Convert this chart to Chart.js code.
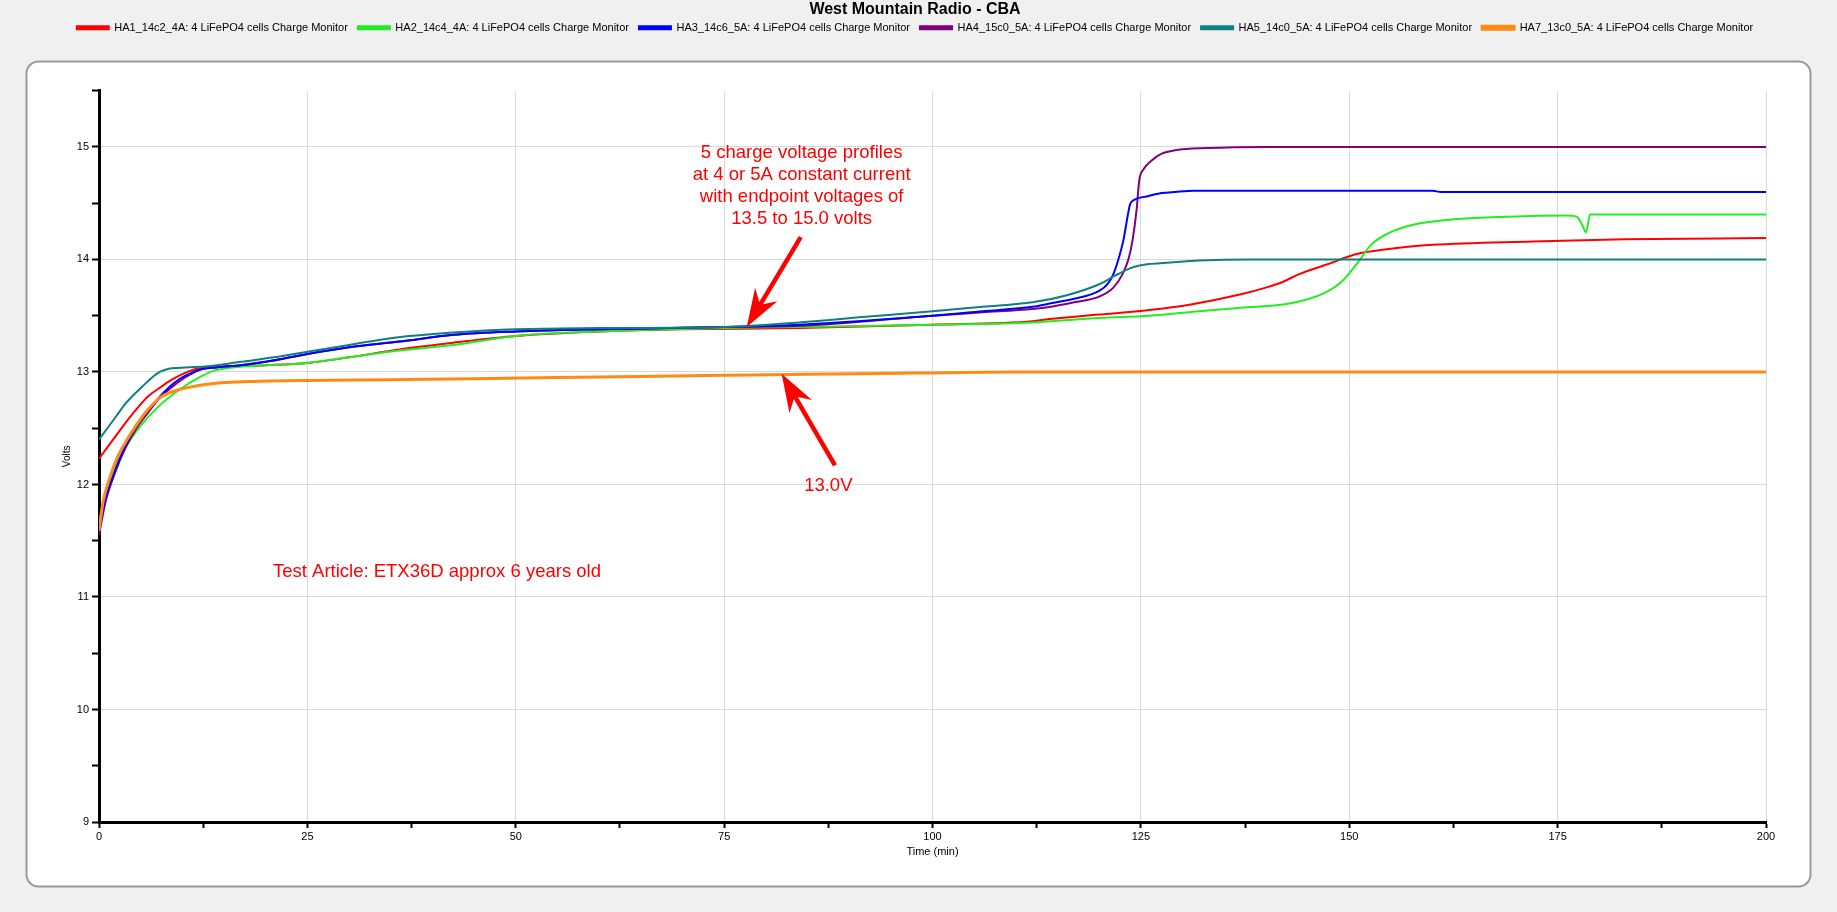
<!DOCTYPE html>
<html><head><meta charset="utf-8">
<script src="https://cdn.jsdelivr.net/npm/chart.js@4.4.0/dist/chart.umd.min.js"></script>
<style>html,body{margin:0;padding:0;background:#f0f0f0;}#wrap{width:1837px;height:912px;position:relative;}</style>
</head><body><div id="wrap"><canvas id="c"></canvas></div>
<script>
const chartTitle = 'West Mountain Radio - CBA';
const seriesNames = [
  'HA1_14c2_4A: 4 LiFePO4 cells Charge Monitor',
  'HA2_14c4_4A: 4 LiFePO4 cells Charge Monitor',
  'HA3_14c6_5A: 4 LiFePO4 cells Charge Monitor',
  'HA4_15c0_5A: 4 LiFePO4 cells Charge Monitor',
  'HA5_14c0_5A: 4 LiFePO4 cells Charge Monitor',
  'HA7_13c0_5A: 4 LiFePO4 cells Charge Monitor'
];
const seriesColors = ['#ff0000', '#22ee22', '#0000ff', '#800080', '#0f8080', '#ff8a14'];

const ha1Time  = [0, 1, 2, 3.2, 4.5, 6, 7.3, 8.5, 10, 11.3, 13, 16, 20, 25, 30, 36, 42.5, 50, 60, 70, 84, 100, 112, 114, 120, 126, 131, 137, 140, 142, 144, 147.5, 151, 154.5, 160, 172, 183, 200];
const ha1Volts = [12.23, 12.33, 12.43, 12.55, 12.67, 12.79, 12.86, 12.92, 12.98, 13.02, 13.04, 13.05, 13.06, 13.08, 13.13, 13.2, 13.26, 13.32, 13.36, 13.38, 13.39, 13.42, 13.45, 13.47, 13.51, 13.55, 13.6, 13.69, 13.75, 13.8, 13.87, 13.96, 14.05, 14.09, 14.13, 14.16, 14.18, 14.19];

const ha2Time  = [0, 0.7, 1.5, 2.5, 3.8, 5.2, 6.8, 8.5, 10, 11.3, 12.5, 13.7, 16, 20, 25, 30, 36, 42.5, 50, 60, 75, 84, 100, 112, 120, 126, 132, 137, 143, 147, 149.2, 151, 152.6, 154.9, 157.8, 163, 169, 176, 177.3, 178, 178.4, 178.9, 180, 190, 200];
const ha2Volts = [11.65, 11.9, 12.08, 12.24, 12.4, 12.54, 12.67, 12.78, 12.86, 12.92, 12.97, 13.01, 13.04, 13.06, 13.08, 13.13, 13.19, 13.24, 13.32, 13.36, 13.39, 13.4, 13.42, 13.44, 13.48, 13.5, 13.54, 13.57, 13.61, 13.7, 13.81, 13.97, 14.13, 14.24, 14.31, 14.36, 14.38, 14.39, 14.38, 14.3, 14.24, 14.4, 14.4, 14.4, 14.4];

const ha3Time  = [0, 0.8, 1.8, 3.2, 4.5, 6, 7.3, 8.5, 9.7, 11, 12.1, 14, 17, 20, 25, 30, 36, 42.5, 50, 60, 75, 84, 100, 106, 112, 114.2, 117, 120, 121, 121.7, 122.3, 122.9, 123.4, 123.7, 124.2, 125.7, 127.5, 129.1, 131.4, 160, 161, 200];
const ha3Volts = [11.6, 11.88, 12.1, 12.35, 12.52, 12.67, 12.78, 12.87, 12.94, 12.99, 13.02, 13.04, 13.06, 13.09, 13.16, 13.22, 13.27, 13.33, 13.36, 13.38, 13.4, 13.42, 13.5, 13.54, 13.58, 13.61, 13.65, 13.72, 13.78, 13.87, 14.0, 14.17, 14.38, 14.49, 14.53, 14.56, 14.59, 14.6, 14.61, 14.61, 14.6, 14.6];

const ha4Time  = [0, 0.8, 1.8, 3.2, 4.5, 6, 7.3, 8.5, 9.7, 11, 12.1, 14, 17, 20, 25, 30, 36, 42.5, 50, 60, 75, 84, 100, 106, 112, 114.2, 117, 120, 121.7, 122.8, 123.5, 124, 124.5, 124.8, 125.3, 126.3, 127.5, 129.1, 133, 140, 200];
const ha4Volts = [11.55, 11.85, 12.08, 12.33, 12.5, 12.65, 12.77, 12.85, 12.92, 12.98, 13.02, 13.04, 13.06, 13.09, 13.16, 13.22, 13.27, 13.33, 13.36, 13.38, 13.4, 13.41, 13.5, 13.53, 13.56, 13.58, 13.62, 13.67, 13.75, 13.87, 14.0, 14.17, 14.45, 14.7, 14.8, 14.88, 14.94, 14.97, 14.99, 15.0, 15.0];

const ha5Time  = [0, 1, 2, 3.2, 4.2, 5.2, 6.2, 7.3, 8.5, 10.4, 13, 17, 21, 25, 30, 35, 42.5, 50, 60, 75, 84, 92, 100, 106, 112, 116, 120, 122, 124, 126, 128, 132, 138, 160, 200];
const ha5Volts = [12.4, 12.5, 12.6, 12.72, 12.8, 12.87, 12.94, 13.0, 13.03, 13.04, 13.05, 13.09, 13.13, 13.18, 13.24, 13.3, 13.35, 13.38, 13.39, 13.4, 13.44, 13.49, 13.54, 13.58, 13.62, 13.68, 13.78, 13.86, 13.93, 13.96, 13.97, 13.99, 14.0, 14.0, 14.0];

const ha7Time  = [0, 0.5, 1.3, 2.2, 3.3, 4.5, 5.8, 7.3, 9, 11.3, 14, 18, 25, 35, 45, 55, 65, 75, 85, 97, 110, 130, 160, 200];
const ha7Volts = [11.59, 11.85, 12.06, 12.24, 12.39, 12.53, 12.66, 12.77, 12.83, 12.87, 12.9, 12.915, 12.925, 12.93, 12.94, 12.95, 12.96, 12.97, 12.98, 12.99, 13.0, 13.0, 13.0, 13.0];

const xTickLabels = [0, 25, 50, 75, 100, 125, 150, 175, 200];
const yTickLabels = [9, 10, 11, 12, 13, 14, 15];

const FONT = "'Liberation Sans Narrow', 'Liberation Sans', Arial, sans-serif";
const ANN_FONT = "'Liberation Sans', Arial, sans-serif";
Chart.defaults.font.family = FONT;
Chart.defaults.color = '#000';

function pts(t, v) { return t.map((x, i) => ({ x: x, y: v[i] })); }
const allTimes = [ha1Time, ha2Time, ha3Time, ha4Time, ha5Time, ha7Time];
const allVolts = [ha1Volts, ha2Volts, ha3Volts, ha4Volts, ha5Volts, ha7Volts];
const drawOrder = [5, 4, 2, 3, 1, 0];

const datasets = seriesNames.map((name, i) => ({
  label: name,
  data: pts(allTimes[i], allVolts[i]),
  borderColor: seriesColors[i],
  backgroundColor: seriesColors[i],
  borderWidth: i === 5 ? 3 : 2,
  pointRadius: 0,
  cubicInterpolationMode: 'monotone',
  order: drawOrder[i]
}));

const framePlugin = {
  id: 'frame',
  beforeDraw(chart) {
    const ctx = chart.ctx;
    ctx.save();
    ctx.fillStyle = '#f0f0f0';
    ctx.fillRect(0, 0, chart.width, chart.height);
    ctx.beginPath();
    ctx.roundRect(26.5, 61.5, 1784, 825, 12);
    ctx.fillStyle = '#ffffff';
    ctx.fill();
    ctx.lineWidth = 2;
    ctx.strokeStyle = '#9a9a9a';
    ctx.stroke();
    ctx.restore();
  }
};

// annotation positions in data units (minutes, volts)
const noteLines = ['5 charge voltage profiles', 'at 4 or 5A constant current', 'with endpoint voltages of', '13.5 to 15.0 volts'];
const noteLineY = [14.95, 14.755, 14.56, 14.364];
const noteX = 84.3;
const arrows = [
  { from: [84.19, 14.198], to: [77.71, 13.399] },
  { from: [88.3, 12.17], to: [81.9, 12.985] }
];
const labelTexts = [
  { text: '13.0V', x: 87.5, y: 11.99 },
  { text: 'Test Article: ETX36D approx 6 years old', x: 40.55, y: 11.22 }
];

const notesPlugin = {
  id: 'notes',
  afterDatasetsDraw(chart) {
    const ctx = chart.ctx, xs = chart.scales.x, ys = chart.scales.y;
    ctx.save();
    ctx.fillStyle = '#ff0000';
    ctx.strokeStyle = '#ff0000';
    ctx.font = '18.5px ' + ANN_FONT;
    ctx.textAlign = 'center';
    ctx.textBaseline = 'middle';
    noteLines.forEach((t, i) => ctx.fillText(t, xs.getPixelForValue(noteX), ys.getPixelForValue(noteLineY[i])));
    labelTexts.forEach(l => ctx.fillText(l.text, xs.getPixelForValue(l.x), ys.getPixelForValue(l.y)));
    arrows.forEach(a => {
      const x1 = xs.getPixelForValue(a.from[0]), y1 = ys.getPixelForValue(a.from[1]);
      const x2 = xs.getPixelForValue(a.to[0]), y2 = ys.getPixelForValue(a.to[1]);
      const ang = Math.atan2(y2 - y1, x2 - x1);
      const headLen = 38, headW = 13, notch = 26;
      const ux = Math.cos(ang), uy = Math.sin(ang), nx = -uy, ny = ux;
      ctx.lineWidth = 4.5;
      ctx.beginPath();
      ctx.moveTo(x1, y1);
      ctx.lineTo(x2 - ux * notch, y2 - uy * notch);
      ctx.stroke();
      ctx.beginPath();
      ctx.moveTo(x2, y2);
      ctx.lineTo(x2 - ux * headLen + nx * headW, y2 - uy * headLen + ny * headW);
      ctx.lineTo(x2 - ux * notch, y2 - uy * notch);
      ctx.lineTo(x2 - ux * headLen - nx * headW, y2 - uy * headLen - ny * headW);
      ctx.closePath();
      ctx.fill();
    });
    ctx.restore();
  }
};

new Chart(document.getElementById('c'), {
  type: 'line',
  data: { datasets: datasets },
  options: {
    responsive: true,
    maintainAspectRatio: false,
    animation: false,
    layout: { padding: { top: 0, left: 64, right: 71, bottom: 50 } },
    plugins: {
      title: { display: true, text: chartTitle, font: { size: 16, weight: 'bold', family: ANN_FONT }, padding: { top: 0, bottom: -7 }, color: '#000' },
      legend: {
        display: true,
        labels: { boxWidth: 32, boxHeight: 3, padding: 10, font: { size: 11 }, color: '#000',
          sort: (a, b) => a.datasetIndex - b.datasetIndex }
      },
      tooltip: { enabled: false }
    },
    scales: {
      x: {
        type: 'linear', min: 0, max: 200,
        afterFit: s => { s.height = 40; },
        ticks: { stepSize: 12.5, autoSkip: false, maxRotation: 0, padding: 2, font: { size: 11 },
          callback: v => xTickLabels.includes(v) ? String(v) : '' },
        grid: { color: c => (c.tick && c.tick.value % 25 === 0 && c.tick.value !== 0) ? '#d9d9d9' : 'rgba(0,0,0,0)',
          tickColor: '#000', tickLength: 6, tickWidth: 2, lineWidth: 1 },
        border: { color: '#000', width: 3 },
        title: { display: true, text: 'Time (min)', font: { size: 11 }, padding: { top: 0, bottom: 3 } }
      },
      xTop: {
        type: 'linear', position: 'top', min: 0, max: 200, display: true,
        afterFit: s => { s.height = 47.5; },
        ticks: { display: false }, grid: { display: false, drawTicks: false }, border: { display: false }
      },
      y: {
        type: 'linear', min: 9, max: 15.5,
        afterFit: s => { s.width = 35; },
        ticks: { stepSize: 0.5, autoSkip: false, padding: 3, font: { size: 11 },
          callback: v => yTickLabels.includes(v) ? String(v) : '' },
        grid: { color: c => (c.tick && Number.isInteger(c.tick.value) && c.tick.value !== 9) ? '#d9d9d9' : 'rgba(0,0,0,0)',
          tickColor: '#000', tickLength: 7, tickWidth: 2, lineWidth: 1 },
        border: { color: '#000', width: 3 },
        title: { display: true, text: 'Volts', font: { size: 10 }, padding: { top: -3, bottom: 0 } }
      }
    }
  },
  plugins: [framePlugin, notesPlugin]
});
</script>
</body></html>
